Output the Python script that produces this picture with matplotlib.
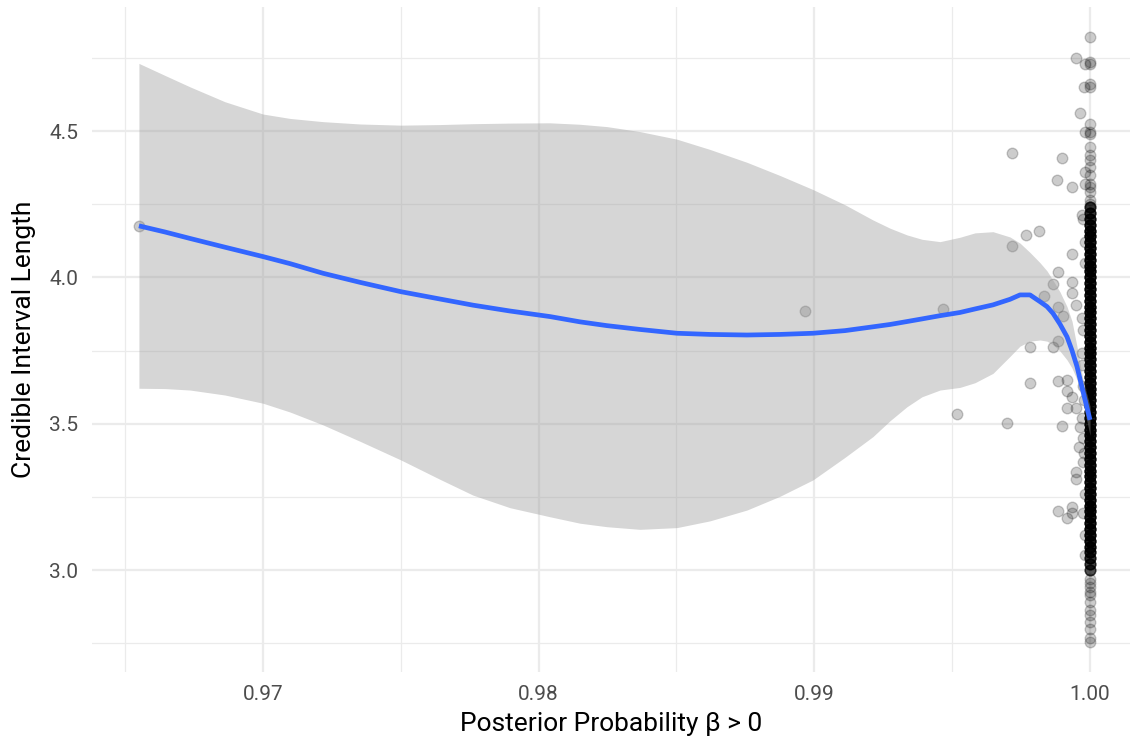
# Posterior probability vs credible interval length (scatter + loess-like smooth)
import matplotlib
matplotlib.use("Agg")
import matplotlib.pyplot as plt
import numpy as np

plt.rcParams["font.family"] = ["Roboto", "DejaVu Sans"]

# scattered points away from the column at 1.00
pts_x = [0.96550, 0.98966, 0.99467, 0.99518, 0.99699, 0.99717, 0.99717, 0.99768,
         0.99782, 0.99782, 0.99815, 0.99833, 0.99866, 0.99866, 0.99880, 0.99884,
         0.99884, 0.99884, 0.99884, 0.99884, 0.99898, 0.99898, 0.99902, 0.99917,
         0.99917, 0.99917, 0.99917, 0.99935, 0.99935, 0.99935, 0.99935, 0.99935,
         0.99935, 0.99935, 0.99949, 0.99949, 0.99949, 0.99949, 0.99949, 0.99964,
         0.99971, 0.99975, 0.99978, 0.99982, 0.99982, 0.99982, 0.99982,
         0.99971, 0.99971, 0.99975, 0.99971, 0.99975, 0.99978, 0.99975, 0.99982,
         0.99975, 0.99982, 0.99982, 0.99971, 0.99978, 0.99964, 0.99960, 0.99982,
         0.99982, 0.99975]
pts_y = [4.175, 3.885, 3.891, 3.533, 3.502, 4.425, 4.107, 4.145,
         3.762, 3.639, 4.158, 3.937, 3.977, 3.762, 4.333, 4.018,
         3.900, 3.784, 3.646, 3.202, 4.408, 3.492, 3.868, 3.610,
         3.553, 3.649, 3.178, 4.309, 4.080, 3.946, 3.984, 3.592,
         3.216, 3.195, 4.749, 3.905, 3.335, 3.310, 3.553, 4.560,
         4.213, 3.195, 4.650, 4.728, 4.497, 4.361, 4.320,
         3.74, 3.70, 3.63, 3.52, 3.45, 3.40, 3.37, 3.26,
         3.82, 4.05, 4.12, 3.86, 3.58, 3.49, 3.42, 3.05,
         3.12, 4.20]

# the column of points at probability 1.00: sparse values and dense band (value, count)
col_sparse_y = [4.822, 4.737, 4.730, 4.660, 4.650, 4.524, 4.497, 4.490, 4.446,
                4.418, 4.400, 4.378, 4.350, 4.320, 4.310, 4.290, 4.264, 4.250,
                2.970, 2.955, 2.942, 2.925, 2.915, 2.890, 2.864, 2.847, 2.823,
                2.800, 2.768, 2.754]
col_dense_y = [3.00, 3.02, 3.04, 3.06, 3.08, 3.10, 3.12, 3.14, 3.16, 3.18,
               3.20, 3.22, 3.24, 3.26, 3.28, 3.30, 3.32, 3.34, 3.36, 3.38,
               3.40, 3.42, 3.44, 3.46, 3.48, 3.50, 3.52, 3.54, 3.56, 3.58,
               3.60, 3.62, 3.64, 3.66, 3.68, 3.70, 3.72, 3.74, 3.76, 3.78,
               3.80, 3.82, 3.84, 3.86, 3.88, 3.90, 3.92, 3.94, 3.96, 3.98,
               4.00, 4.02, 4.04, 4.06, 4.08, 4.10, 4.12, 4.14, 4.16, 4.18,
               4.20, 4.22, 4.24]
col_dense_n = [5, 6, 7, 8, 9, 10, 10, 10, 10, 10,
               10, 10, 10, 10, 10, 10, 10, 10, 10, 10,
               10, 10, 10, 10, 10, 10, 10, 10, 10, 10,
               10, 10, 10, 10, 10, 10, 10, 10, 10, 10,
               10, 10, 10, 10, 10, 10, 10, 10, 10, 10,
               10, 10, 10, 10, 10, 10, 10, 10, 10, 9,
               8, 7, 6]

# smooth curve and its confidence band
fit_x = [0.965502, 0.966445, 0.967352, 0.968622, 0.970000, 0.970979, 0.972177,
         0.973519, 0.975006, 0.976421, 0.977618, 0.978960, 0.980411, 0.981499,
         0.982479, 0.983676, 0.985018, 0.986215, 0.987557, 0.988754, 0.989951,
         0.991112, 0.992128, 0.992745, 0.993361, 0.993906, 0.994559, 0.995284,
         0.995828, 0.996481, 0.997098, 0.997460, 0.997823, 0.998186, 0.998440,
         0.998657, 0.998912, 0.999165, 0.999347, 0.999528, 0.999746, 1.000000]
fit_y = [4.176, 4.155, 4.133, 4.103, 4.071, 4.047, 4.014,
         3.983, 3.951, 3.926, 3.905, 3.885, 3.866, 3.848,
         3.835, 3.822, 3.809, 3.805, 3.803, 3.805, 3.809,
         3.818, 3.831, 3.839, 3.849, 3.858, 3.869, 3.880,
         3.892, 3.906, 3.925, 3.940, 3.940, 3.917, 3.900,
         3.877, 3.840, 3.797, 3.750, 3.695, 3.610, 3.513]
fit_hi = [4.731, 4.690, 4.651, 4.600, 4.558, 4.543, 4.532,
          4.524, 4.520, 4.522, 4.525, 4.527, 4.528, 4.523,
          4.515, 4.498, 4.472, 4.437, 4.393, 4.348, 4.300,
          4.248, 4.196, 4.168, 4.145, 4.130, 4.122, 4.137,
          4.152, 4.156, 4.138, 4.117, 4.085, 4.050, 4.022,
          3.990, 3.950, 3.900, 3.850, 3.763, 3.650, 3.560]
fit_lo = [3.621, 3.620, 3.615, 3.598, 3.570, 3.540, 3.496,
          3.440, 3.376, 3.310, 3.256, 3.213, 3.182, 3.160,
          3.148, 3.139, 3.145, 3.168, 3.205, 3.252, 3.308,
          3.385, 3.456, 3.510, 3.558, 3.592, 3.615, 3.624,
          3.640, 3.672, 3.730, 3.765, 3.782, 3.786, 3.782,
          3.770, 3.748, 3.718, 3.690, 3.650, 3.570, 3.460]

col_y = list(col_sparse_y) + list(np.repeat(col_dense_y, col_dense_n))
all_x = pts_x + [1.0] * len(col_y)
all_y = pts_y + col_y

fig = plt.figure(figsize=(11.3, 7.44), dpi=100)
ax = fig.add_axes([92 / 1130, 71.7 / 744, 1038 / 1130, 665.8 / 744])

ax.scatter(all_x, all_y, s=58, color="black", alpha=0.2, linewidths=1.0, zorder=2)
ax.fill_between(fit_x, fit_lo, fit_hi, color="#999999", alpha=0.4, linewidth=0, zorder=3)
ax.plot(fit_x, fit_y, color="#3366FF", lw=3.4, solid_capstyle="butt",
        solid_joinstyle="round", zorder=4)

ax.set_xlim(0.96380, 1.00145)
ax.set_ylim(2.6506, 4.9254)
ax.set_xticks([0.97, 0.98, 0.99, 1.00])
ax.set_xticklabels(["0.97", "0.98", "0.99", "1.00"])
ax.set_xticks([0.965, 0.975, 0.985, 0.995], minor=True)
ax.set_yticks([3.0, 3.5, 4.0, 4.5])
ax.set_yticklabels(["3.0", "3.5", "4.0", "4.5"])
ax.set_yticks([2.75, 3.25, 3.75, 4.25, 4.75], minor=True)

ax.grid(which="major", color="#EBEBEB", lw=1.6, zorder=0)
ax.grid(which="minor", color="#EBEBEB", lw=0.9, zorder=0)
ax.set_axisbelow(True)
for s in ax.spines.values():
    s.set_visible(False)
ax.tick_params(which="both", length=0, labelsize=15, labelcolor="#4D4D4D")
ax.tick_params(axis="x", pad=9)
ax.tick_params(axis="y", pad=10)

ax.set_xlabel("Posterior Probability β > 0", fontsize=19, labelpad=6)
ax.set_ylabel("Credible Interval Length", fontsize=19, labelpad=9)

fig.savefig("out.png", dpi=100)
